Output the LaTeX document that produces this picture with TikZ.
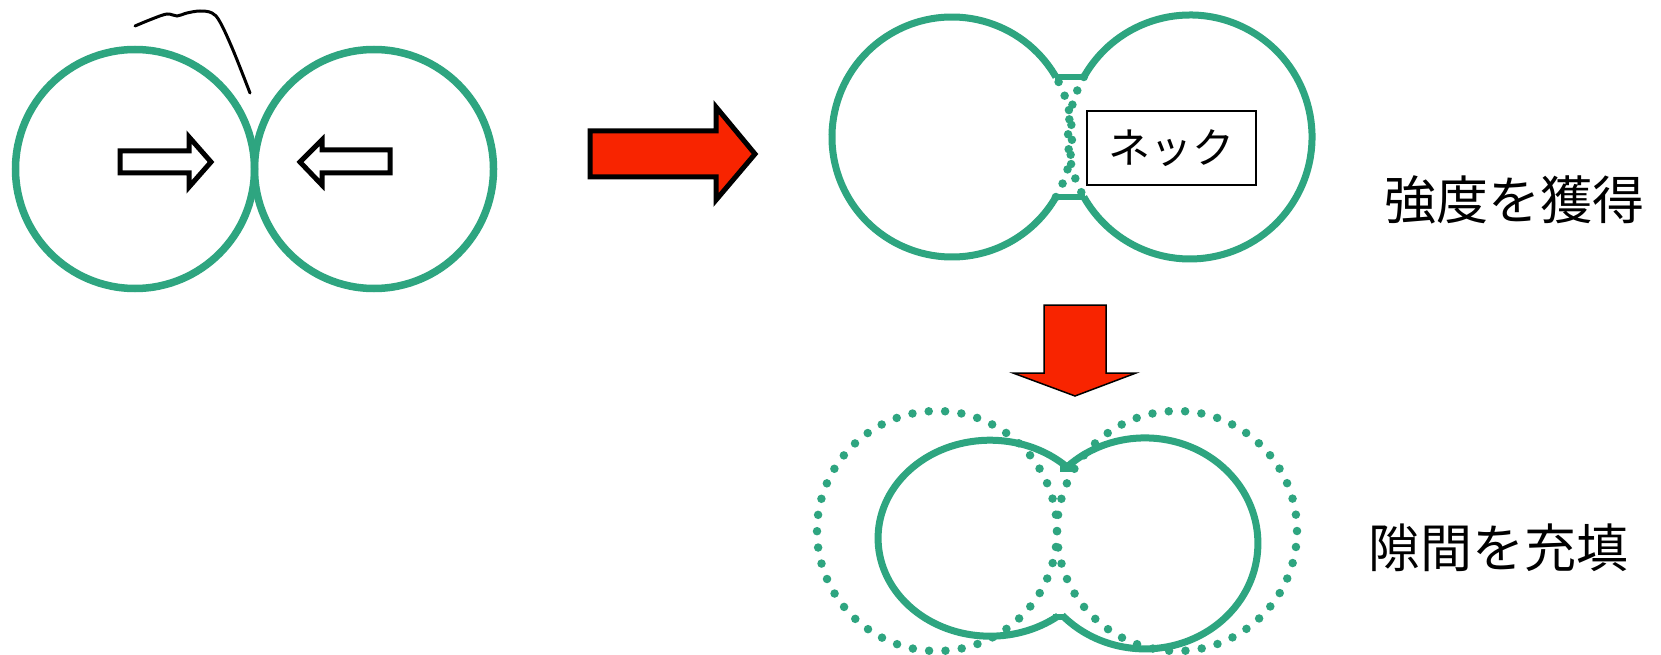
\documentclass[tikz,border=0pt]{standalone}
\usepackage{fontspec}
\newfontfamily\jp{Noto Sans CJK JP}
\definecolor{grn}{RGB}{46,165,128}
\definecolor{redf}{RGB}{248,36,0}
\tikzset{
  solidline/.style={draw=grn, line width=7pt},
  dotline/.style={draw=grn, line width=8.5pt, line cap=round, dash pattern=on 0pt off #1},
  dotline/.default=16.4pt,
  hollowarrow/.style={draw=black, line width=5pt, line join=miter, fill=white},
  redarrow/.style={draw=black, fill=redf, line join=miter},
  bigtext/.style={font=\jp\fontsize{52}{60}\selectfont, inner sep=0pt},
}
\begin{document}
\begin{tikzpicture}[x=1pt,y=1pt]
\useasboundingbox (0,0) rectangle (1661,-655);
\fill[white] (0,0) rectangle (1661,-655);

% ---- top left: two touching particles ----
\draw[solidline, line width=7.5pt] (135,-169) circle (119.5);
\draw[solidline, line width=7.5pt] (374,-169) circle (119.5);
\draw[hollowarrow] (120,-151) -- (189,-151) -- (189,-137) -- (211,-162) -- (189,-187) -- (189,-173) -- (120,-173) -- cycle;
\draw[hollowarrow] (390,-150) -- (322,-150) -- (322,-140) -- (300,-162) -- (322,-185) -- (322,-173) -- (390,-173) -- cycle;
\draw[line width=3pt, line cap=round] plot[smooth, tension=0.6] coordinates {(135,-26) (152,-19) (167,-14) (177,-16) (187,-13) (200,-11) (212,-13) (220,-22) (233,-50) (250,-93)};

% ---- red arrows ----
\draw[redarrow, line width=5pt] (590,-131) -- (716,-131) -- (716,-107) -- (755,-154) -- (716,-200) -- (716,-177) -- (590,-177) -- cycle;
\draw[redarrow, line width=1.5pt] (1044,-305) -- (1106,-305) -- (1106,-373) -- (1136,-373) -- (1075,-396) -- (1013,-373) -- (1044,-373) -- cycle;

% ---- top right: neck formation ----
\draw[solidline] (1055.9,-77) arc[start angle=30, end angle=330, radius=120];
\draw[dotline=15pt] (1055.9,-197) arc[start angle=-30, end angle=30, radius=120];
\draw[solidline] (1083.8,-77) arc[start angle=150.55, end angle=-150.55, radius=122];
\draw[dotline=15pt] (1083.8,-77) arc[start angle=150.55, end angle=209.45, radius=122];
\draw[draw=grn, line width=6pt] (1055,-77) -- (1085,-77);
\draw[draw=grn, line width=6pt] (1055,-197) -- (1085,-197);
\node[draw=black, line width=2pt, fill=white, minimum width=169pt, minimum height=74pt, inner sep=0pt,
      font=\jp\fontsize{42}{48}\selectfont] (neck) at (1171,-148) {ネック};

% ---- bottom: gap filling ----
\draw[dotline] (937,-531) circle (120);
\draw[dotline] (1177,-531) circle (120);
\draw[solidline] (1067,-467) arc[start angle=46.6, end angle=307.4, x radius=112, y radius=98];
\draw[solidline] (1067,-467) arc[start angle=133.6, end angle=-137, x radius=113, y radius=105.5];
\draw[draw=grn, line width=6pt] (1060,-469) -- (1074,-469);
\draw[draw=grn, line width=6pt] (1053,-617) -- (1066,-617);

% ---- labels ----
\node[bigtext] (strength) at (1514,-200) {強度を獲得};
\node[bigtext] (fill) at (1498,-548) {隙間を充填};
\end{tikzpicture}
\end{document}
